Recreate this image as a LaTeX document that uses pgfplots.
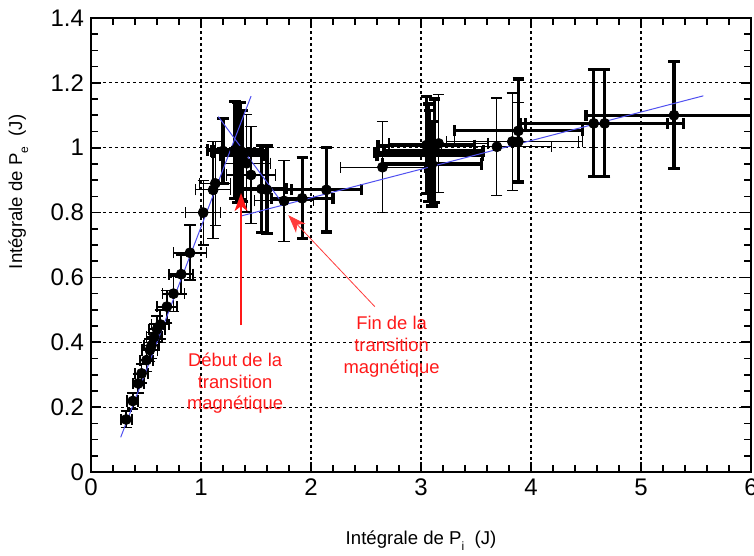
\documentclass[border=0pt]{standalone}
\usepackage{fontspec}
\setmainfont{Liberation Sans}
\usepackage{pgfplots}
\pgfplotsset{compat=1.18}
\usetikzlibrary{arrows.meta}

\definecolor{fitblue}{RGB}{80,80,240}
\definecolor{annred}{RGB}{255,25,25}

\pgfplotsset{
  errpts/.style={only marks, mark=*, mark size=2.5pt,
    mark options={fill=black, draw=black},
    error bars/.cd, x dir=both, x explicit, y dir=both, y explicit,
    error bar style={line width=#1, black},
    error mark options={rotate=90, black, mark size=2.8pt, line width=#1}},
}

\begin{document}
\begin{tikzpicture}
\begin{axis}[
  scale only axis, width=330pt, height=227pt,
  xmin=0, xmax=6, ymin=0, ymax=1.4,
  xtick={0,1,2,3,4,5,6},
  ytick={0,0.2,0.4,0.6,0.8,1,1.2,1.4},
  minor x tick num=4, minor y tick num=3,
  xtick pos=both, ytick pos=both, tick align=inside,
  major tick length=5pt, minor tick length=3.5pt,
  every tick/.style={black, line width=0.8pt},
  axis line style={line width=1pt},
  grid=major,
  major grid style={black, line width=0.6pt, dash pattern=on 1.5pt off 1.5pt},
  ticklabel style={font=\fontsize{12}{14}\selectfont},
  /pgf/number format/assume math mode=true,
  xlabel={Intégrale de P\raisebox{-0.6ex}{\fontsize{6}{6}\selectfont i}\ \ (J)},
  ylabel={Intégrale de P\raisebox{-0.6ex}{\fontsize{6}{6}\selectfont e}\ \ (J)},
  label style={font=\fontsize{9.3}{11}\selectfont},
  xlabel style={at={(axis description cs:0.5,-0.152)}, anchor=center},
  ylabel style={at={(axis description cs:-0.11,0.617)}, anchor=center},
]
% montée initiale
\addplot[errpts=0.9pt] coordinates {
  (0.32,0.162) +- (0.05,0.025)
  (0.38,0.219) +- (0.05,0.025)
  (0.43,0.273) +- (0.05,0.03)
  (0.46,0.304) +- (0.06,0.03)
  (0.505,0.345) +- (0.06,0.035)
  (0.535,0.376) +- (0.07,0.035)
  (0.55,0.39) +- (0.07,0.04)
  (0.575,0.417) +- (0.07,0.04)
  (0.60,0.44) +- (0.07,0.04)
  (0.63,0.455) +- (0.08,0.045)
  (0.69,0.51) +- (0.09,0.05)
  (0.75,0.55) +- (0.1,0.055)
  (0.82,0.61) +- (0.11,0.06)
  (0.90,0.676) +- (0.15,0.085)
};
% barres fines
\addplot[errpts=0.6pt] coordinates {
  (1.02,0.80) +- (0.16,0.1)
  (1.11,0.87) +- (0.16,0.15)
  (1.13,0.89) +- (0.14,0.13)
  (1.415,0.952) +- (0.22,0.15)
  (1.455,0.916) +- (0.22,0.15)
  (1.755,0.836) +- (0.27,0.125)
  (2.65,0.94) +- (0.38,0.14)
  (3.16,1.013) +- (0.45,0.15)
  (3.69,1.003) +- (0.5,0.15)
  (3.83,1.019) +- (0.6,0.15)
  (3.885,1.019) +- (0.58,0.12)
};
% barres épaisses
\addplot[errpts=1.6pt] coordinates {
  (1.20,0.99) +- (0.1,0.1)
  (1.31,0.993) +- (0.25,0.15)
  (1.33,0.985) +- (0.22,0.155)
  (1.36,0.99) +- (0.24,0.15)
  (1.38,0.975) +- (0.2,0.14)
  (1.55,0.873) +- (0.23,0.135)
  (1.60,0.87) +- (0.22,0.135)
  (1.92,0.844) +- (0.28,0.125)
  (2.14,0.87) +- (0.32,0.13)
  (3.05,1.008) +- (0.44,0.15)
  (3.07,0.985) +- (0.49,0.15)
  (3.08,0.975) +- (0.48,0.14)
  (3.10,0.95) +- (0.45,0.13)
  (3.12,0.99) +- (0.45,0.16)
  (3.885,1.052) +- (0.58,0.16)
  (4.57,1.075) +- (0.67,0.165)
  (4.67,1.075) +- (0.72,0.165)
  (5.30,1.10) +- (0.8,0.165)
};
% ajustements linéaires
\addplot[fitblue, line width=0.5pt, no marks] coordinates {(0.27,0.107) (1.455,1.159)};
\addplot[fitblue, line width=0.5pt, no marks] coordinates {(1.157,1.096) (1.76,0.82)};
\addplot[fitblue, line width=0.5pt, no marks] coordinates {(1.37,0.79) (5.567,1.16)};
% annotations
\draw[annred, line width=0.6pt, -{Stealth[length=9pt, width=6.5pt, inset=2.5pt]}]
  (axis cs:1.364,0.453) -- (axis cs:1.364,0.86);
\draw[annred!85, line width=0.4pt, -{Stealth[length=9pt, width=6.5pt, inset=2.5pt]}]
  (axis cs:2.58,0.51) -- (axis cs:1.794,0.792);
\node[annred, align=center, font=\fontsize{9.2}{10.8}\selectfont]
  at (axis cs:1.31,0.274) {Début de la\\transition\\magnétique};
\node[annred, align=center, font=\fontsize{9.2}{10.8}\selectfont]
  at (axis cs:2.733,0.386) {Fin de la\\transition\\magnétique};
\end{axis}
\pgfresetboundingbox
\useasboundingbox (-45.5pt,-42pt) rectangle (331.5pt,236pt);
\end{tikzpicture}
\end{document}
